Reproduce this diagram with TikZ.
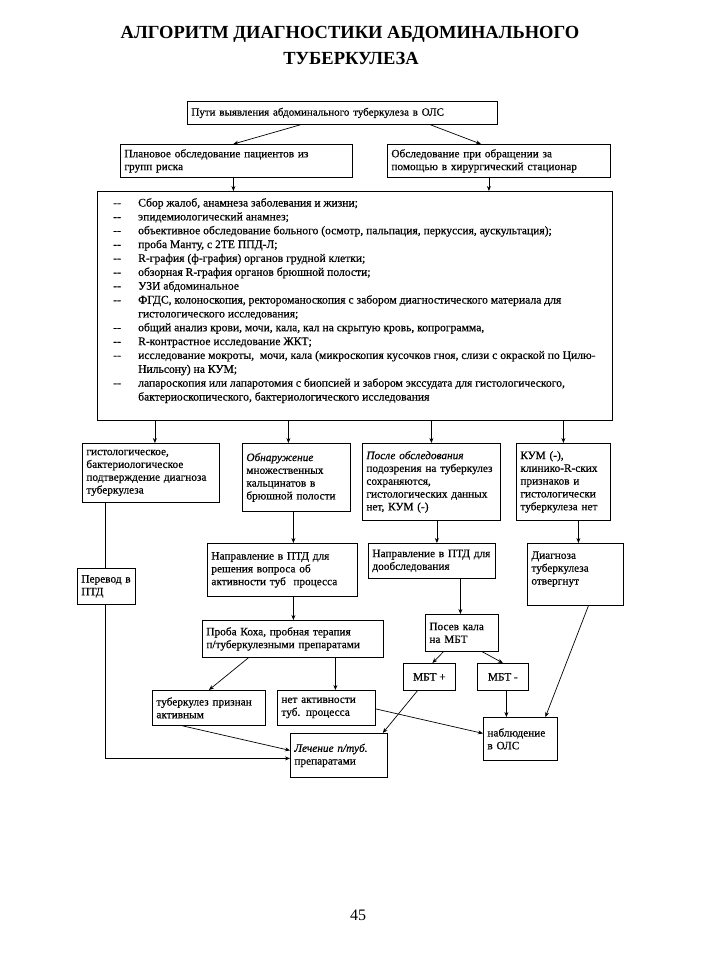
\documentclass[tikz,border=0pt]{standalone}
\usepackage{fontspec}
\setmainfont{Liberation Serif}
\newfontfamily\bxf{Liberation Serif}[FakeBold=0.5]
\newfontfamily\ttlf{Liberation Serif Bold}
\usetikzlibrary{arrows.meta,calc}
\newcommand\bx[6]{%
  \pgfmathsetmacro\bw{#4-#2-8}\pgfmathsetmacro\bh{#5-#3}%
  \node[box, anchor=north west, text width=\bw pt, minimum height=\bh pt] (#1) at (#2,#3) {#6};}
\newcommand\itm{\makebox[28pt][l]{\hspace{3pt}--}}
\newcommand\cnt{\hspace*{28pt}}
\begin{document}
\begin{tikzpicture}[x=1pt,y=-1pt,
  box/.style={draw, line width=0.8pt, inner xsep=4pt, inner ysep=2pt, align=left,
    font=\bxf\fontsize{11.3}{12.8}\selectfont},
  cbox/.style={box, align=center},
  arr/.style={line width=0.7pt, -{Stealth[length=5pt,width=4pt]}},
  ln/.style={line width=0.7pt},
  ttl/.style={font=\ttlf\fontsize{18.5}{22}\selectfont}]
\useasboundingbox (0,0) rectangle (710,960);
\fill[white] (0,0) rectangle (710,960);
% title
\node[ttl] (t1) at (350,34) {АЛГОРИТМ ДИАГНОСТИКИ АБДОМИНАЛЬНОГО};
\node[ttl] (t2) at (351,58) {ТУБЕРКУЛЕЗА};
% boxes
\bx{top}{187}{101}{497}{124}{\fontsize{11}{12.8}\selectfont Пути выявления абдоминального туберкулеза в ОЛС}
\bx{plan}{120}{144}{352}{177}{Плановое обследование пациентов из\\ групп риска}
\bx{surg}{387}{144}{610}{177}{Обследование при обращении за\\ помощью в хирургический стационар}
\node[draw, line width=0.8pt, anchor=north west, minimum width=515pt, minimum height=229pt, inner sep=0pt] (big) at (97,191) {};
\node[anchor=north west, align=left, inner sep=0pt, font=\bxf\fontsize{11.6}{13.86}\selectfont] (bigtxt) at (110,198) {%
\itm Сбор жалоб, анамнеза заболевания и жизни;\\
\itm эпидемиологический анамнез;\\
\itm объективное обследование больного (осмотр, пальпация, перкуссия, аускультация);\\
\itm проба Манту, с 2ТЕ ППД-Л;\\
\itm R-графия (ф-графия) органов грудной клетки;\\
\itm обзорная R-графия органов брюшной полости;\\
\itm УЗИ абдоминальное\\
\itm ФГДС, колоноскопия, ректороманоскопия с забором диагностического материала для\\
\cnt гистологического исследования;\\
\itm общий анализ крови, мочи, кала, кал на скрытую кровь, копрограмма,\\
\itm R-контрастное исследование ЖКТ;\\
\itm исследование мокроты,\ \ мочи, кала (микроскопия кусочков гноя, слизи с окраской по Цилю-\\
\cnt Нильсону) на КУМ;\\
\itm лапароскопия или лапаротомия с биопсией и забором экссудата для гистологического,\\
\cnt бактериоскопического, бактериологического исследования};
\bx{b1}{82}{443}{219}{502}{гистологическое,\\ бактериологическое\\ подтверждение диагноза\\ туберкулеза}
\bx{b2}{242}{443}{350}{511}{\textit{Обнаружение}\\ множественных\\ кальцинатов в\\ брюшной полости}
\bx{b3}{362}{443}{500}{520}{\textit{После обследования}\\ подозрения на туберкулез\\ сохраняются,\\ гистологических данных\\ нет, КУМ (-)}
\bx{b4}{516}{443}{610}{520}{КУМ (-),\\ клинико-R-ских\\ признаков и\\ гистологически\\ туберкулеза нет}
\bx{perevod}{77}{568}{135}{604}{Перевод в\\ ПТД}
\bx{napr1}{207}{543}{357}{596}{Направление в ПТД для\\ решения вопроса об\\ активности туб\ \ процесса}
\bx{napr2}{368}{543}{495}{578}{Направление в ПТД для\\ дообследования}
\bx{diag}{527}{543}{623}{605}{Диагноза\\ туберкулеза\\ отвергнут\\ \mbox{}}
\bx{proba}{202}{620}{383}{657}{Проба Коха, пробная терапия\\ п/туберкулезными препаратами}
\bx{posev}{425}{614}{498}{651}{Посев кала\\ на МБТ}
\node[cbox, anchor=north west, minimum width=52pt, minimum height=27pt] (mbtp) at (403,663) {МБТ +};
\node[cbox, anchor=north west, minimum width=51pt, minimum height=27pt] (mbtm) at (477,663) {МБТ -};
\bx{active}{152}{690}{265}{725}{туберкулез признан\\ активным}
\bx{noact}{277}{690}{375}{725}{нет активности\\ туб. процесса}
\bx{treat}{290}{733}{387}{777}{\textit{Лечение п/туб.}\\ препаратами}
\bx{obs}{483}{717}{557}{760}{наблюдение\\ в ОЛС}
\node[font=\fontsize{16}{18}\selectfont] (pg) at (358,915) {45};
% connectors
\draw[arr] ([xshift=-42pt]top.south) -- ([xshift=-3pt]plan.north);
\draw[arr] ([xshift=88pt]top.south) -- ([xshift=-18pt]surg.north);
\coordinate (c1) at ([xshift=-3pt]plan.south);
\draw[arr] (c1) -- (c1 |- big.north);
\coordinate (c2) at ([xshift=-10pt]surg.south);
\draw[arr] (c2) -- (c2 |- big.north);
\coordinate (d1) at ([xshift=4pt]b1.north);
\draw[arr] (d1 |- big.south) -- (d1);
\coordinate (d2) at ([xshift=-8pt]b2.north);
\draw[arr] (d2 |- big.south) -- (d2);
\coordinate (d3) at (b3.north);
\draw[arr] (d3 |- big.south) -- (d3);
\coordinate (d4) at (b4.north);
\draw[arr] (d4 |- big.south) -- (d4);
\coordinate (e1) at ([xshift=-1pt]perevod.north);
\draw[ln] (e1 |- b1.south) -- (e1);
\coordinate (e2) at ([xshift=11pt]napr1.north);
\draw[arr] (e2 |- b2.south) -- (e2);
\draw[arr] (e2 |- napr1.south) -- (e2 |- proba.north);
\coordinate (e3) at ([xshift=5pt]napr2.north);
\draw[arr] (e3 |- b3.south) -- (e3);
\coordinate (e4) at ([xshift=3pt]diag.north);
\draw[arr] (e4 |- b4.south) -- (e4);
\coordinate (e5) at ([xshift=-1.5pt]posev.north);
\draw[arr] (e5 |- napr2.south) -- (e5);
\draw[arr] ([xshift=-18.5pt]posev.south) -- ([xshift=3pt]mbtp.north);
\draw[arr] ([xshift=20.5pt]posev.south) -- (mbtm.north);
\coordinate (e6) at ([xshift=-14pt]obs.north);
\draw[arr] (e6 |- mbtm.south) -- (e6);
\draw[arr] ([xshift=13pt]diag.south) -- ([xshift=25pt]obs.north);
\draw[arr] ([xshift=-44.5pt]proba.south) -- (active.north);
\coordinate (e7) at ([xshift=9pt]noact.north);
\draw[arr] (e7 |- proba.south) -- (e7);
\draw[arr] ([xshift=-26.5pt]active.south) -- ([yshift=5pt]treat.west);
\draw[arr] ([xshift=-12pt]mbtp.south) -- ([xshift=-5pt]treat.north east);
\draw[arr] ([yshift=-1pt]noact.east) -- ([yshift=5.5pt]obs.west);
\coordinate (e8) at ([yshift=-3pt]treat.west);
\draw[arr] (e1 |- perevod.south) -- (e1 |- e8) -- (e8);
\end{tikzpicture}
\end{document}
